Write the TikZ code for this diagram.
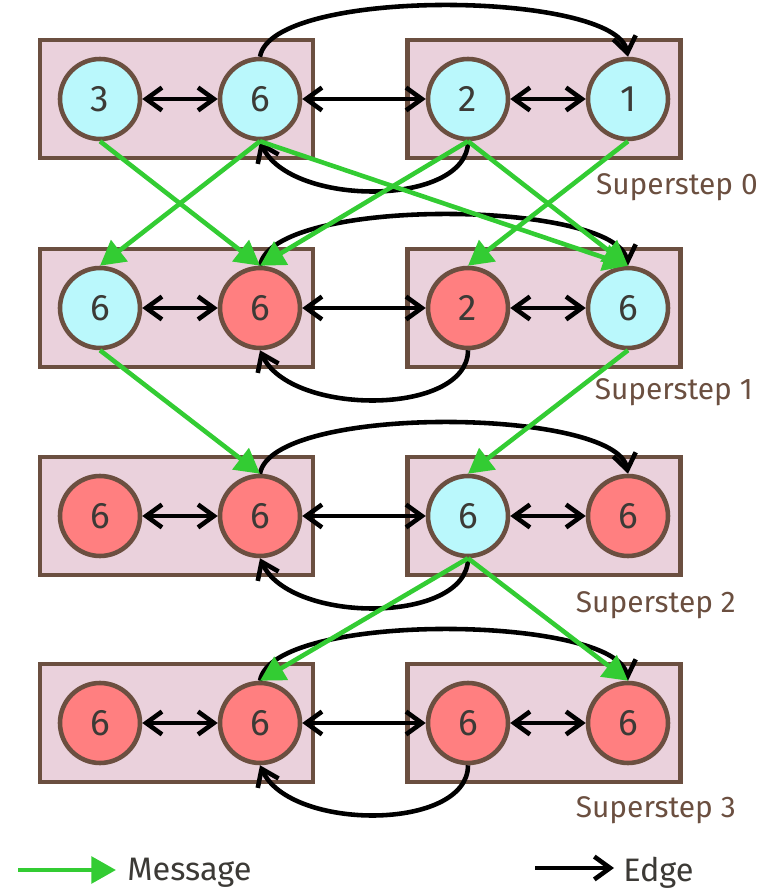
\documentclass[tikz,border=0pt]{standalone}
\usepackage{fontspec}
\setmainfont{Fira Sans}
\usetikzlibrary{arrows.meta}

\definecolor{partfill}{HTML}{EAD1DC}
\definecolor{partline}{HTML}{6B4F40}
\definecolor{idle}{HTML}{BAF8FC}
\definecolor{live}{HTML}{FF7F80}
\definecolor{msggreen}{HTML}{33CC33}
\definecolor{digit}{HTML}{3C3A36}

\tikzset{barb/.tip={Straight Barb[length=9pt,width=13pt,line width=2.6pt]}}

\begin{document}
\begin{tikzpicture}[x=.02cm,y=.02cm,line width=2.6pt,
  part/.style={draw=partline,fill=partfill,minimum width=5.46cm,minimum height=2.36cm},
  vtx/.style={circle,draw=partline,minimum size=1.6cm,inner sep=0pt,text=digit,
    font=\fontsize{21}{25}\selectfont},
  link/.style={black,line width=2.6pt},
  msg/.style={msggreen,line width=2.6pt,-{Triangle[length=14pt,width=15pt]}},
  steplabel/.style={text=partline,anchor=base east,inner sep=0pt,font=\fontsize{17}{20}\selectfont},
  keylabel/.style={anchor=west,inner sep=0pt,text=digit,font=\fontsize{18.5}{22}\selectfont}]
\useasboundingbox (0,0) rectangle (764,893);
% worker partitions, one row per superstep
\foreach \r/\y in {a/794,b/585,c/377,d/170}{
  \node[part] (\r L) at (176.5,\y) {};
  \node[part] (\r R) at (544,\y) {};
}
% superstep 0
\node[vtx,fill=idle] (a0) at (100,794) {3};
\node[vtx,fill=idle] (a1) at (260,794) {6};
\node[vtx,fill=idle] (a2) at (468,794) {2};
\node[vtx,fill=idle] (a3) at (628,794) {1};
% superstep 1
\node[vtx,fill=idle] (b0) at (100,585) {6};
\node[vtx,fill=live] (b1) at (260,585) {6};
\node[vtx,fill=live] (b2) at (468,585) {2};
\node[vtx,fill=idle] (b3) at (628,585) {6};
% superstep 2
\node[vtx,fill=live] (c0) at (100,377) {6};
\node[vtx,fill=live] (c1) at (260,377) {6};
\node[vtx,fill=idle] (c2) at (468,377) {6};
\node[vtx,fill=live] (c3) at (628,377) {6};
% superstep 3
\node[vtx,fill=live] (d0) at (100,170) {6};
\node[vtx,fill=live] (d1) at (260,170) {6};
\node[vtx,fill=live] (d2) at (468,170) {6};
\node[vtx,fill=live] (d3) at (628,170) {6};
% graph edges, same in every superstep
\foreach \r in {a,b,c,d}{
  \draw[link,barb-barb] (\r0)--(\r1);
  \draw[link,barb-barb] (\r1)--(\r2);
  \draw[link,barb-barb] (\r2)--(\r3);
  \draw[link,-barb] (\r1.north)
    .. controls +(12,70) and +(-12,66) .. (\r3.north);
  \draw[link,-barb] (\r2.south)
    .. controls +(0,-66) and +(30,-66) .. (\r1.south);
}
% messages
\draw[msg] (a0.south) -- (b1.north);
\draw[msg] (a1.south) -- (b0.north);
\draw[msg] (a1.south) -- (b3.north);
\draw[msg] (a2.south) -- (b1.north);
\draw[msg] (a2.south) -- (b3.north);
\draw[msg] (a3.south) -- (b2.north);
\draw[msg] (b0.south) -- (c1.north);
\draw[msg] (b3.south) -- (c2.north);
\draw[msg] (c2.south) -- (d1.north);
\draw[msg] (c2.south) -- (d3.north);
\node[steplabel] (s0) at (760,698) {Superstep 0};
\node[steplabel] (s1) at (755,493) {Superstep 1};
\node[steplabel] (s2) at (738,280) {Superstep 2};
\node[steplabel] (s3) at (738,75) {Superstep 3};
% legend
\coordinate (m0) at (18,23);
\coordinate (m1) at (116,23);
\coordinate (e0) at (535,25);
\coordinate (e1) at (614,25);
\draw[msg] (m0) -- (m1);
\draw[link,-barb] (e0) -- (e1);
\node[keylabel] (mlabel) at (125,20) {Message};
\node[keylabel] (elabel) at (621,20) {Edge};
\end{tikzpicture}
\end{document}
